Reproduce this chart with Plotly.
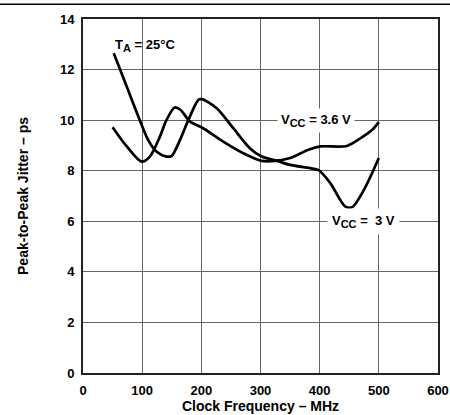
import plotly.graph_objects as go

# VCC = 3.6 V curve
x_36 = [50, 74, 99, 113, 130, 141, 155, 165, 181, 203, 237, 271, 302, 325, 350, 381, 401, 446, 470, 489, 500]
y_36 = [9.72, 8.96, 8.36, 8.56, 9.35, 10.0, 10.5, 10.4, 9.94, 9.68, 9.15, 8.69, 8.39, 8.39, 8.5, 8.83, 8.96, 8.98, 9.3, 9.62, 9.92]

# VCC = 3 V curve
x_3 = [52, 76, 96, 110, 124, 141, 150, 164, 178, 195, 201, 226, 254, 282, 302, 328, 350, 384, 398, 418, 443, 455, 475, 500]
y_3 = [12.65, 11.2, 10.0, 9.22, 8.76, 8.56, 8.59, 9.22, 10.0, 10.8, 10.83, 10.47, 9.68, 8.89, 8.56, 8.39, 8.23, 8.1, 8.02, 7.51, 6.59, 6.56, 7.25, 8.5]

x_ticks = [0, 100, 200, 300, 400, 500, 600]
y_ticks = [0, 2, 4, 6, 8, 10, 12, 14]

FONT = "Liberation Sans, Arial, Helvetica, sans-serif"
SUB = "<sub><span style='font-size:11px'>{}</span></sub>"

fig = go.Figure()
fig.add_trace(go.Scatter(x=x_36, y=y_36, mode="lines",
                         line=dict(color="black", width=2.7, shape="spline", smoothing=0.8),
                         showlegend=False, hoverinfo="skip"))
fig.add_trace(go.Scatter(x=x_3, y=y_3, mode="lines",
                         line=dict(color="black", width=2.7, shape="spline", smoothing=0.8),
                         showlegend=False, hoverinfo="skip"))

fig.update_layout(
    width=450, height=415,
    margin=dict(l=83, r=12, t=19, b=42),
    paper_bgcolor="white", plot_bgcolor="white",
    font=dict(family=FONT, color="black"),
    xaxis=dict(range=[0, 600], tickvals=x_ticks, showgrid=True, gridcolor="#666666", gridwidth=1.2,
               zeroline=False, showline=True, linecolor="#222", linewidth=2, mirror=True,
               automargin=False,
               ticks="", tickfont=dict(size=13, weight="bold", family=FONT), ticklabelstandoff=4,
               title=dict(text="Clock Frequency – MHz", font=dict(size=14, weight="bold", family=FONT), standoff=4)),
    yaxis=dict(range=[0, 14], tickvals=y_ticks, showgrid=True, gridcolor="#666666", gridwidth=1.2,
               zeroline=False, showline=True, linecolor="#222", linewidth=2, mirror=True,
               automargin=False,
               ticks="", tickfont=dict(size=13, weight="bold", family=FONT), ticklabelstandoff=4,
               title=dict(text="Peak-to-Peak Jitter – ps", font=dict(size=14, weight="bold", family=FONT), standoff=28)),
)

fig.add_annotation(x=50, y=12.95, xref="x", yref="y", xanchor="left", yanchor="middle",
                   text="T" + SUB.format("A") + " = 25°C", showarrow=False,
                   font=dict(size=13, weight="bold", family=FONT))
fig.add_annotation(x=394, y=10.0, xref="x", yref="y", xanchor="center", yanchor="middle",
                   text="V" + SUB.format("CC") + " = 3.6 V", showarrow=False, bgcolor="white", borderpad=3,
                   font=dict(size=13, weight="bold", family=FONT))
fig.add_annotation(x=474, y=6.0, xref="x", yref="y", xanchor="center", yanchor="middle",
                   text="V" + SUB.format("CC") + " =\u00a0 3 V", showarrow=False, bgcolor="white", borderpad=4,
                   font=dict(size=13, weight="bold", family=FONT))

# top rule across the page
fig.add_shape(type="line", xref="paper", yref="paper", x0=-0.3, x1=1.1, y0=1.042, y1=1.042,
              line=dict(color="black", width=1.5))

fig.write_html("out.html", config={"displayModeBar": False},
               post_script="document.body.style.margin='0px';")
